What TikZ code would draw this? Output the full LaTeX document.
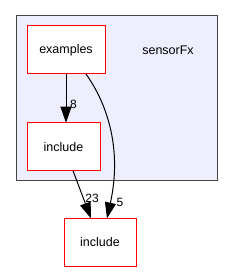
\documentclass[tikz,border=0pt]{standalone}
\usepackage{fontspec}
\setmainfont{Liberation Sans}
\usetikzlibrary{arrows.meta,calc}
\definecolor{clfill}{HTML}{EEEEFF}
\definecolor{clborder}{HTML}{444444}
\definecolor{dirred}{HTML}{FF0000}
\tikzset{
  dirbox/.style={fill=white, outer sep=0pt, minimum width=#1, inner sep=0pt, minimum height=48pt, font=\fontsize{12.5}{14}\selectfont},
  dep/.style={draw=black, line width=1pt, -{Triangle[length=16pt,width=11pt]}},
  lbl/.style={font=\fontsize{12}{14}\selectfont, inner sep=0pt},
  frame/.style={draw=dirred, line width=1pt},
}
\begin{document}
\begin{tikzpicture}[x=1pt,y=-1pt]
\useasboundingbox (0,0) rectangle (233,272);
\node[draw=clborder, fill=clfill, line width=1pt, minimum width=201pt, minimum height=165pt, inner sep=0pt] (cluster) at (116.5,98.3) {};
\node[font=\fontsize{12.5}{14}\selectfont] (title) at (168,50) {sensorFx};
\node[dirbox=78pt] (examples) at (66,50) {examples};
\node[dirbox=73pt] (incin) at (63.5,146.7) {include};
\node[dirbox=72pt] (incout) at (100,242.5) {include};
\draw[frame] (examples.south west) rectangle (examples.north east);
\draw[frame] (incin.south west) rectangle (incin.north east);
\draw[frame] (incout.south west) rectangle (incout.north east);
\draw[dep] (examples.south) -- (examples.south |- incin.north);
\draw[dep] ($(incin.south)+(9.5,0)$) -- ($(incout.north)+(-9,0)$);
\draw[dep] ($(examples.south)+(20,0)$) .. controls (108,105) and (122,150) .. ($(incout.north)+(7,0)$);
\node[lbl] (l8) at (73.5,104) {8};
\node[lbl] (l23) at (92,198) {23};
\node[lbl] (l5) at (120,202) {5};
\end{tikzpicture}
\end{document}
